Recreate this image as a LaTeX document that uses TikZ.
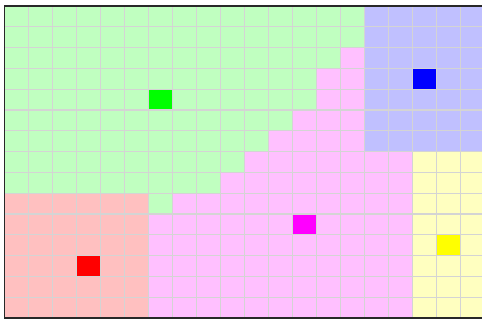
\documentclass[tikz,border=0pt]{standalone}
\usepackage{tikz}
\definecolor{greenzone}{RGB}{192, 255, 192}
\definecolor{bluezone}{RGB}{192, 192, 255}
\definecolor{pinkzone}{RGB}{255, 192, 255}
\definecolor{redzone}{RGB}{255, 192, 192}
\definecolor{yellowzone}{RGB}{255, 255, 192}
\definecolor{greenseed}{RGB}{0, 255, 0}
\definecolor{blueseed}{RGB}{0, 0, 255}
\definecolor{pinkseed}{RGB}{255, 0, 255}
\definecolor{redseed}{RGB}{255, 0, 0}
\definecolor{yellowseed}{RGB}{255, 255, 0}
\definecolor{gridcolor}{RGB}{212, 212, 212}
\definecolor{framecolor}{RGB}{40, 40, 40}
\tikzset{
zone/.style={
  draw=none
},
gridline/.style={
  draw=gridcolor,
  line width=0.75pt
},
frameline/.style={
  draw=framecolor,
  line width=0.9pt
}
}
\begin{document}
\begin{tikzpicture}[x=0.48cm, y=-0.416cm]
  \useasboundingbox (-0.1944,-0.2885) rectangle (19.889,15.096);
  \clip (-0.1944,-0.2885) rectangle (19.889,15.096);
  % regions
  \fill[zone, pinkzone] (0,0) rectangle (20,15);
  \fill[zone, greenzone] (0,0) -- (15,0) -- (15,2) -- (14,2) -- (14,3) -- (13,3)
    -- (13,5) -- (12,5) -- (12,6) -- (11,6) -- (11,7) -- (10,7) -- (10,8)
    -- (9,8) -- (9,9) -- (7,9) -- (7,10) -- (6,10) -- (6,9) -- (0,9) -- cycle;
  \fill[zone, bluezone] (15,0) rectangle (20,7);
  \fill[zone, yellowzone] (17,7) rectangle (20,15);
  \fill[zone, redzone] (0,9) rectangle (6,15);
  % seeds
  \foreach \c/\r/\col in {6/4/greenseed, 17/3/blueseed, 12/10/pinkseed,
    3/12/redseed, 18/11/yellowseed}
    \fill[\col] (\c,\r) rectangle ++(1,1);
  \foreach \c in {1,...,19}
    \draw[gridline] (\c,0) -- (\c,15);
  \foreach \r in {1,...,14}
    \draw[gridline] (0,\r) -- (20,\r);
  \draw[frameline] (0,0) rectangle (20,15);
\end{tikzpicture}
\end{document}
